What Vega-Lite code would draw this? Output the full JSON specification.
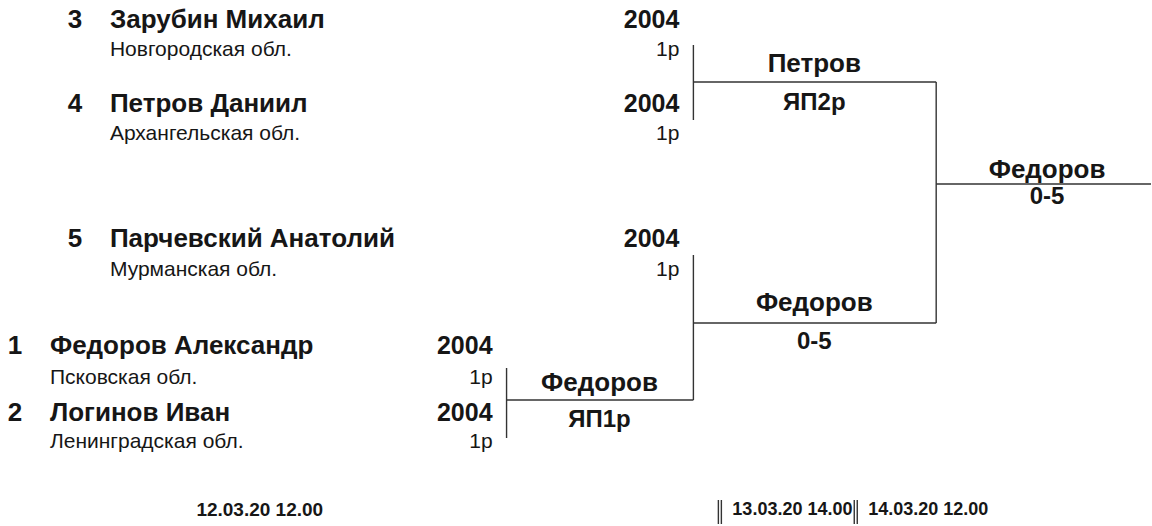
{
  "$schema": "https://vega.github.io/schema/vega-lite/v6.json",
  "width": 1152,
  "height": 526,
  "autosize": {"type": "fit", "contains": "padding"},
  "padding": 0,
  "background": "white",
  "config": {"view": {"stroke": null}, "text": {"font": "Liberation Sans, Arial, sans-serif", "color": "#161616"}},
  "datasets": {
    "labels": [
      {"x": 75, "y": 20, "label": "3", "role": "seed"},
      {"x": 110, "y": 20, "label": "Зарубин Михаил", "role": "name"},
      {"x": 680, "y": 20, "label": "2004", "role": "year"},
      {"x": 110, "y": 50, "label": "Новгородская обл.", "role": "region"},
      {"x": 680, "y": 50, "label": "1р", "role": "rank"},
      {"x": 75, "y": 104, "label": "4", "role": "seed"},
      {"x": 110, "y": 104, "label": "Петров Даниил", "role": "name"},
      {"x": 680, "y": 104, "label": "2004", "role": "year"},
      {"x": 110, "y": 134, "label": "Архангельская обл.", "role": "region"},
      {"x": 680, "y": 134, "label": "1р", "role": "rank"},
      {"x": 75, "y": 239, "label": "5", "role": "seed"},
      {"x": 110, "y": 239, "label": "Парчевский Анатолий", "role": "name"},
      {"x": 680, "y": 239, "label": "2004", "role": "year"},
      {"x": 110, "y": 270, "label": "Мурманская обл.", "role": "region"},
      {"x": 680, "y": 270, "label": "1р", "role": "rank"},
      {"x": 15, "y": 346, "label": "1", "role": "seed"},
      {"x": 50, "y": 346, "label": "Федоров Александр", "role": "name"},
      {"x": 493, "y": 346, "label": "2004", "role": "year"},
      {"x": 50, "y": 378, "label": "Псковская обл.", "role": "region"},
      {"x": 493, "y": 378, "label": "1р", "role": "rank"},
      {"x": 15, "y": 413, "label": "2", "role": "seed"},
      {"x": 50, "y": 413, "label": "Логинов Иван", "role": "name"},
      {"x": 493, "y": 413, "label": "2004", "role": "year"},
      {"x": 50, "y": 442, "label": "Ленинградская обл.", "role": "region"},
      {"x": 493, "y": 442, "label": "1р", "role": "rank"},
      {"x": 815, "y": 64, "label": "Петров", "role": "winner"},
      {"x": 815, "y": 103, "label": "ЯП2р", "role": "score"},
      {"x": 1048, "y": 170, "label": "Федоров", "role": "winner"},
      {"x": 1048, "y": 197, "label": "0-5", "role": "score"},
      {"x": 815, "y": 303, "label": "Федоров", "role": "winner"},
      {"x": 815, "y": 342, "label": "0-5", "role": "score"},
      {"x": 600, "y": 383, "label": "Федоров", "role": "winner"},
      {"x": 600, "y": 420, "label": "ЯП1р", "role": "score"},
      {"x": 260, "y": 510, "label": "12.03.20 12.00", "role": "date"},
      {"x": 733, "y": 510, "label": "13.03.20 14.00", "role": "date2"},
      {"x": 869, "y": 510, "label": "14.03.20 12.00", "role": "date2"}
    ],
    "lines": [
      {"x": 694, "y": 45, "x2": 694, "y2": 120},
      {"x": 694, "y": 82, "x2": 937, "y2": 82},
      {"x": 937, "y": 82, "x2": 937, "y2": 323},
      {"x": 937, "y": 184, "x2": 1152, "y2": 184},
      {"x": 694, "y": 255, "x2": 694, "y2": 400},
      {"x": 694, "y": 323, "x2": 937, "y2": 323},
      {"x": 507, "y": 368, "x2": 507, "y2": 438},
      {"x": 507, "y": 400, "x2": 694, "y2": 400},
      {"x": 719, "y": 500, "x2": 719, "y2": 524},
      {"x": 722, "y": 500, "x2": 722, "y2": 524},
      {"x": 855, "y": 500, "x2": 855, "y2": 524},
      {"x": 858, "y": 500, "x2": 858, "y2": 524}
    ]
  },
  "encoding": {
    "x": {"field": "x", "type": "quantitative", "scale": {"domain": [0, 1152], "nice": false, "zero": false}, "axis": null},
    "y": {"field": "y", "type": "quantitative", "scale": {"domain": [526, 0], "nice": false, "zero": false}, "axis": null}
  },
  "layer": [
    {
      "data": {"name": "lines"},
      "mark": {"type": "rule", "color": "#333333", "strokeWidth": 1.4},
      "encoding": {"x2": {"field": "x2"}, "y2": {"field": "y2"}}
    },
    {
      "data": {"name": "labels"},
      "transform": [{"filter": "datum.role == 'name'"}],
      "mark": {"type": "text", "align": "left", "baseline": "middle", "fontWeight": "bold", "fontSize": 26},
      "encoding": {"text": {"field": "label"}}
    },
    {
      "data": {"name": "labels"},
      "transform": [{"filter": "datum.role == 'seed' || datum.role == 'winner'"}],
      "mark": {"type": "text", "align": "center", "baseline": "middle", "fontWeight": "bold", "fontSize": 26},
      "encoding": {"text": {"field": "label"}}
    },
    {
      "data": {"name": "labels"},
      "transform": [{"filter": "datum.role == 'score'"}],
      "mark": {"type": "text", "align": "center", "baseline": "middle", "fontWeight": "bold", "fontSize": 24},
      "encoding": {"text": {"field": "label"}}
    },
    {
      "data": {"name": "labels"},
      "transform": [{"filter": "datum.role == 'year'"}],
      "mark": {"type": "text", "align": "right", "baseline": "middle", "fontWeight": "bold", "fontSize": 25},
      "encoding": {"text": {"field": "label"}}
    },
    {
      "data": {"name": "labels"},
      "transform": [{"filter": "datum.role == 'region'"}],
      "mark": {"type": "text", "align": "left", "baseline": "middle", "fontSize": 21},
      "encoding": {"text": {"field": "label"}}
    },
    {
      "data": {"name": "labels"},
      "transform": [{"filter": "datum.role == 'rank'"}],
      "mark": {"type": "text", "align": "right", "baseline": "middle", "fontSize": 21},
      "encoding": {"text": {"field": "label"}}
    },
    {
      "data": {"name": "labels"},
      "transform": [{"filter": "datum.role == 'date'"}],
      "mark": {"type": "text", "align": "center", "baseline": "middle", "fontWeight": "bold", "fontSize": 19},
      "encoding": {"text": {"field": "label"}}
    },
    {
      "data": {"name": "labels"},
      "transform": [{"filter": "datum.role == 'date2'"}],
      "mark": {"type": "text", "align": "left", "baseline": "middle", "fontWeight": "bold", "fontSize": 18},
      "encoding": {"text": {"field": "label"}}
    }
  ]
}
